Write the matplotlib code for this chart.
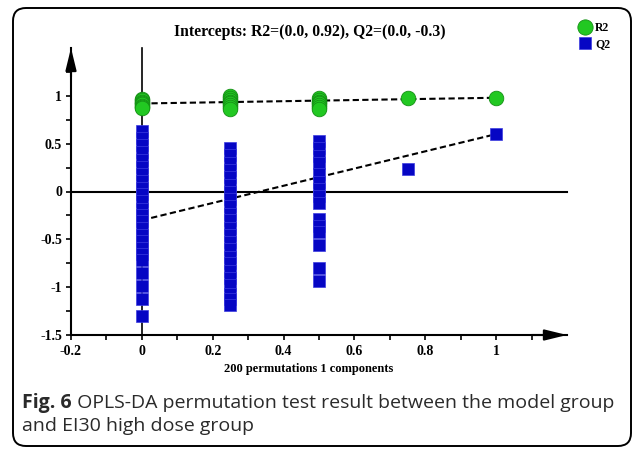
import matplotlib
matplotlib.use("Agg")
import matplotlib.pyplot as plt
from matplotlib.lines import Line2D
from matplotlib.patches import FancyBboxPatch
from matplotlib.transforms import IdentityTransform

SERIF = "Liberation Serif"
plt.rcParams["font.family"] = [SERIF, "DejaVu Serif"]
plt.rcParams["font.weight"] = "bold"

# ---------------- data ----------------
r2_x0 = [0.97, 0.955, 0.94, 0.925, 0.91, 0.895, 0.88, 0.87]
r2_x25 = [0.995, 0.98, 0.96, 0.94, 0.92, 0.90, 0.88, 0.86]
r2_x50 = [0.98, 0.96, 0.94, 0.92, 0.90, 0.88, 0.86]
r2_x75 = [0.975]
r2_x100 = [0.98]

q2_x0 = [0.63, 0.56, 0.49, 0.41, 0.33, 0.26, 0.18, 0.11, 0.04, -0.03, -0.10,
         -0.18, -0.25, -0.31, -0.38, -0.45, -0.52, -0.59, -0.65, -0.72,
         -0.85, -0.99, -1.12, -1.30]
q2_x25 = [0.45, 0.38, 0.30, 0.22, 0.15, 0.07, 0.0, -0.08, -0.15, -0.23, -0.30,
          -0.38, -0.45, -0.53, -0.60, -0.68, -0.75, -0.83, -0.90, -0.98,
          -1.07, -1.12, -1.19]
q2_x50 = [0.53, 0.45, 0.37, 0.30, 0.18, 0.10, 0.03, -0.05, -0.12, -0.29,
          -0.36, -0.42, -0.56, -0.80, -0.94]
q2_x75 = [0.24]
q2_x100 = [0.60]

r2_groups = [(0.0, r2_x0), (0.25, r2_x25), (0.5, r2_x50), (0.75, r2_x75), (1.0, r2_x100)]
q2_groups = [(0.0, q2_x0), (0.25, q2_x25), (0.5, q2_x50), (0.75, q2_x75), (1.0, q2_x100)]

r2_line_x = [0.0, 1.0]
r2_line_y = [0.92, 0.98]
q2_line_x = [0.0, 1.0]
q2_line_y = [-0.3, 0.60]

x_major = [-0.2, 0, 0.2, 0.4, 0.6, 0.8, 1]
x_major_labels = ["-0.2", "0", "0.2", "0.4", "0.6", "0.8", "1"]
x_minor = [-0.1, 0.1, 0.3, 0.5, 0.7, 0.9, 1.1]
y_major = [-1.5, -1, -0.5, 0, 0.5, 1]
y_major_labels = ["-1.5", "-1", "-0.5", "0", "0.5", "1"]
y_minor = [-1.25, -0.75, -0.25, 0.25, 0.75, 1.25]

title = "Intercepts: R2=(0.0, 0.92), Q2=(0.0, -0.3)"
xlabel = "200 permutations 1 components"
cap_bold = "Fig. 6"
cap_rest1 = " OPLS-DA permutation test result between the model group"
cap_line2 = "and EI30 high dose group"

GREEN = "#22c822"
GREEN_EDGE = "#159015"
BLUE = "#0606c4"
BLUE_EDGE = "#3c3ce0"

# ---------------- figure ----------------
W, H = 634, 449
fig = plt.figure(figsize=(W / 100, H / 100), dpi=100)
fig.patch.set_facecolor("white")

border = FancyBboxPatch((13, H - 446), 618, 438,
                        boxstyle="round,pad=0,rounding_size=13",
                        transform=IdentityTransform(), fill=False,
                        edgecolor="black", linewidth=1.4)
fig.patches.append(border)

L, R, B, T = 71, 567, 335, 48
ax = fig.add_axes([L / W, 1 - B / H, (R - L) / W, (B - T) / H])
ax.set_xlim(-0.2, 1.2)
ax.set_ylim(-1.5, 1.5)
ax.set_facecolor("none")
for s in ["top", "right"]:
    ax.spines[s].set_visible(False)
for s in ["left", "bottom"]:
    ax.spines[s].set_linewidth(1.5)

ax.set_xticks(x_major)
ax.set_xticks(x_minor, minor=True)
ax.set_xticklabels(x_major_labels)
ax.set_yticks(y_major)
ax.set_yticks(y_minor, minor=True)
ax.set_yticklabels(y_major_labels)
ax.tick_params(which="both", direction="out", length=3.5, width=1.2, color="black",
               labelsize=10)
ax.tick_params(axis="x", pad=4)
ax.tick_params(axis="y", pad=3)

# arrowheads
arrow_style = "-|>,head_length=1.35,head_width=0.33"
ax.annotate("", xy=(-0.2, 1.5), xytext=(-0.2, 1.2), xycoords="data",
            arrowprops=dict(arrowstyle=arrow_style, color="black", lw=1.5,
                            mutation_scale=10, shrinkA=0, shrinkB=0),
            annotation_clip=False)
ax.annotate("", xy=(1.2, -1.5), xytext=(1.1, -1.5), xycoords="data",
            arrowprops=dict(arrowstyle=arrow_style, color="black", lw=1.5,
                            mutation_scale=10, shrinkA=0, shrinkB=0),
            annotation_clip=False)

# reference lines
ax.plot([-0.2, 1.2], [0, 0], color="black", lw=1.5, zorder=1, clip_on=False)
ax.plot([0, 0], [-1.5, 1.5], color="black", lw=1.2, zorder=1, clip_on=False)

# regression lines
ax.plot(r2_line_x, r2_line_y, color="black", lw=1.5, ls=(0, (3, 1.6)), zorder=2)
ax.plot(q2_line_x, q2_line_y, color="black", lw=1.5, ls=(0, (3, 1.6)), zorder=2)

# points
for xv, ys in q2_groups:
    ax.plot([xv] * len(ys), ys, ls="none", marker="s", markersize=8.6,
            markerfacecolor=BLUE, markeredgecolor=BLUE_EDGE, markeredgewidth=0.5,
            zorder=3, clip_on=False)
for xv, ys in r2_groups:
    ax.plot([xv] * len(ys), ys, ls="none", marker="o", markersize=10.5,
            markerfacecolor=GREEN, markeredgecolor=GREEN_EDGE, markeredgewidth=0.6,
            zorder=4, clip_on=False)

# x label (centred as in the reference)
fig.text(309 / W, 1 - 369 / H, xlabel, ha="center", va="center",
         fontweight="bold", fontsize=9)

# title
fig.text(310 / W, 1 - 32 / H, title, ha="center", va="center",
         fontweight="bold", fontsize=11.3)

# legend
handles = [
    Line2D([], [], ls="none", marker="o", markersize=11, markerfacecolor=GREEN,
           markeredgecolor=GREEN_EDGE, markeredgewidth=0.6),
    Line2D([], [], ls="none", marker="s", markersize=8.6, markerfacecolor=BLUE,
           markeredgecolor=BLUE_EDGE, markeredgewidth=0.5),
]
leg = fig.legend(handles, ["R2", "Q2"], loc="upper left",
                 bbox_to_anchor=(579 / W, 1 - 22 / H), frameon=False,
                 handlelength=1.0, handletextpad=0.35, labelspacing=0.35,
                 borderpad=0, borderaxespad=0,
                 prop=dict(family=SERIF, weight="bold", size=8.5))

# caption
cap_font = dict(family="Open Sans", size=14, color="#2a2a2a")
t1 = fig.text(22 / W, 1 - 403 / H, cap_bold, ha="left", va="center",
              fontweight="bold", **cap_font)
fig.canvas.draw()
bb = t1.get_window_extent(renderer=fig.canvas.get_renderer())
fig.text(bb.x1 / W, 1 - 403 / H, cap_rest1, ha="left", va="center",
         fontweight="normal", **cap_font)
fig.text(22 / W, 1 - 426 / H, cap_line2, ha="left", va="center",
         fontweight="normal", **cap_font)

fig.savefig("out.png", dpi=100)
